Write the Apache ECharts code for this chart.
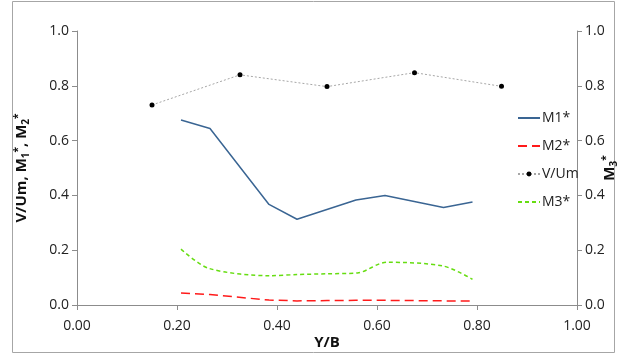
<!DOCTYPE html>
<html>
<head>
<meta charset="utf-8">
<script src="https://cdn.jsdelivr.net/npm/echarts@6/dist/echarts.min.js"></script>
<style>
  html, body { margin: 0; padding: 0; background: #fff; }
  #chart { width: 625px; height: 356px; }
</style>
</head>
<body>
<div id="chart"></div>
<script>
// values, [Y/B, value]
const vUm = [[0.15, 0.73], [0.326, 0.84], [0.5, 0.797], [0.675, 0.848], [0.849, 0.798]]
const m1 = [[0.208, 0.675], [0.266, 0.644], [0.384, 0.367], [0.44, 0.313], [0.558, 0.383],
  [0.616, 0.40], [0.733, 0.356], [0.791, 0.376]]
const m2 = [[0.208, 0.044], [0.266, 0.038], [0.384, 0.018], [0.44, 0.015], [0.5, 0.016],
  [0.558, 0.017], [0.616, 0.017], [0.733, 0.015], [0.791, 0.015]]
const m3 = [[0.208, 0.204], [0.263, 0.134], [0.386, 0.107], [0.44, 0.111], [0.5, 0.114],
  [0.561, 0.117], [0.619, 0.156], [0.733, 0.142], [0.791, 0.094]]

const font = '"Open Sans", "Noto Sans", sans-serif'
const axisGray = '#8c8c8c'

const chart = echarts.init(document.getElementById('chart'))

const yAxisBase = {
  type: 'value',
  min: 0,
  max: 1,
  interval: 0.2,
  axisLine: { show: true, lineStyle: { color: axisGray, width: 1 } },
  axisTick: { show: true, length: 5, lineStyle: { color: axisGray } },
  splitLine: { show: false },
  axisLabel: { color: '#222', fontSize: 14, fontFamily: font, formatter: (v) => v.toFixed(1) },
  nameLocation: 'middle',
  nameMoveOverlap: false,
  nameTextStyle: { color: '#111', fontSize: 15, fontWeight: 'bold', fontFamily: font }
}

const rich = {
  b: { fontSize: 15, fontWeight: 'bold', fontFamily: font, color: '#111' },
  sub: { fontSize: 10, fontWeight: 'bold', fontFamily: font, color: '#111', verticalAlign: 'bottom', padding: [6, 0, 0, 0] },
  sup: { fontSize: 10, fontWeight: 'bold', fontFamily: font, color: '#111', verticalAlign: 'top', padding: [0, 0, 8, 0] }
}

const noDot = { itemStyle: { opacity: 0 } }

chart.setOption({
  animation: false,
  graphic: [{
    type: 'rect',
    shape: { x: 12.5, y: 1.5, width: 602, height: 351 },
    style: { fill: 'none', stroke: '#a6a6a6', lineWidth: 1 },
    z: -1
  }],
  grid: { left: 77, right: 48, top: 31, bottom: 51, outerBoundsMode: 'none', containLabel: false },
  legend: {
    orient: 'vertical',
    left: 512,
    top: 106,
    itemWidth: 22,
    itemHeight: 6,
    itemGap: 14,
    textStyle: { color: '#222', fontSize: 14, fontFamily: font, padding: [0, 0, 0, -3] },
    data: [
      Object.assign({ name: 'M1*' }, noDot),
      Object.assign({ name: 'M2*' }, noDot),
      { name: 'V/Um' },
      Object.assign({ name: 'M3*' }, noDot)
    ]
  },
  xAxis: {
    type: 'value',
    min: 0,
    max: 1,
    interval: 0.2,
    axisLine: { lineStyle: { color: axisGray, width: 1 } },
    axisTick: { show: true, length: 5, lineStyle: { color: axisGray } },
    splitLine: { show: false },
    axisLabel: { color: '#222', fontSize: 14, fontFamily: font, margin: 14, formatter: (v) => v.toFixed(2) },
    name: 'Y/B',
    nameLocation: 'middle',
    nameMoveOverlap: false,
    nameGap: 30,
    nameTextStyle: { color: '#111', fontSize: 15, fontWeight: 'bold', fontFamily: font }
  },
  yAxis: [
    Object.assign({}, yAxisBase, {
      position: 'left',
      name: '{b|V/Um, M}{sub|1}{sup|*}{b|, M}{sub|2}{sup|*}',
      nameGap: 46,
      nameTextStyle: Object.assign({}, yAxisBase.nameTextStyle, { rich })
    }),
    Object.assign({}, yAxisBase, {
      position: 'right',
      name: '{b|M}{sub|3}{sup|*}',
      nameRotate: 90,
      nameGap: 24,
      nameTextStyle: Object.assign({}, yAxisBase.nameTextStyle, { rich })
    })
  ],
  series: [
    {
      name: 'M1*',
      type: 'line',
      data: m1,
      symbol: 'none',
      lineStyle: { color: '#3a6593', width: 1.5 },
      itemStyle: { color: '#3a6593' }
    },
    {
      name: 'M2*',
      type: 'line',
      data: m2,
      symbol: 'none',
      lineStyle: { color: '#ff1a1a', width: 1.5, type: [9, 5] },
      itemStyle: { color: '#ff1a1a' }
    },
    {
      name: 'V/Um',
      type: 'line',
      data: vUm,
      symbol: 'circle',
      symbolSize: 5,
      lineStyle: { color: '#a6a6a6', width: 1, type: [2, 2] },
      itemStyle: { color: '#000' }
    },
    {
      name: 'M3*',
      type: 'line',
      yAxisIndex: 1,
      data: m3,
      symbol: 'none',
      smooth: 0.3,
      lineStyle: { color: '#66dd11', width: 1.5, type: [4, 3] },
      itemStyle: { color: '#66dd11' }
    }
  ]
})
</script>
</body>
</html>
